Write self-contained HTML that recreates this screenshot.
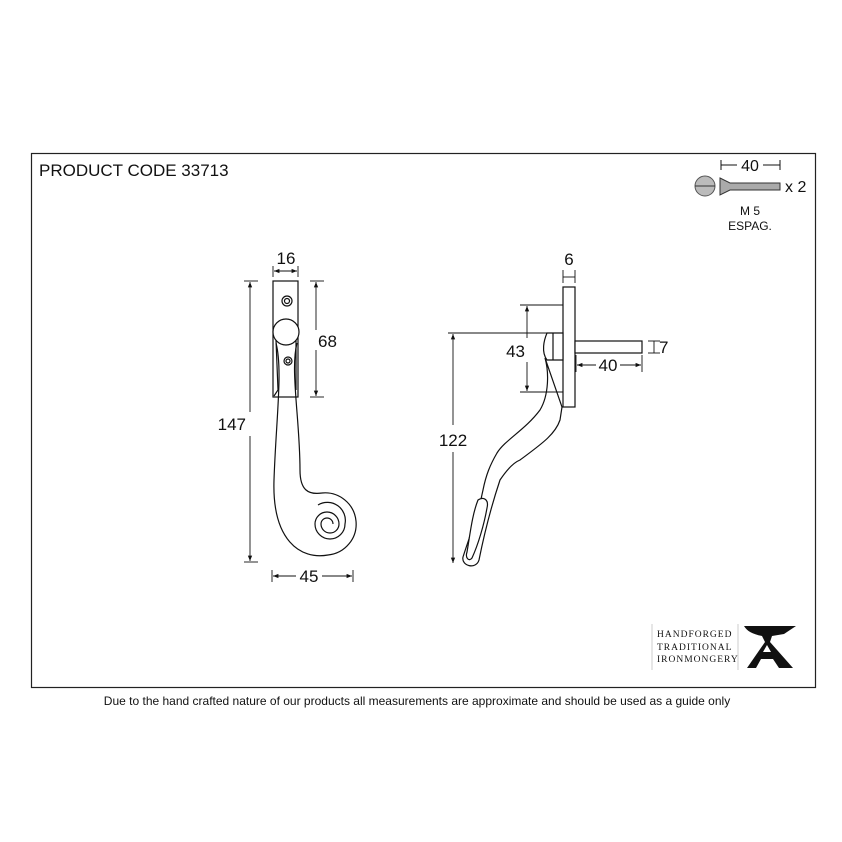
<!DOCTYPE html>
<html><head><style>
body{margin:0;background:#fff;}
svg{display:block;}
text{font-family:"Liberation Sans",sans-serif;fill:#111;}
</style></head><body>
<svg width="842" height="842" viewBox="0 0 842 842">
<defs>
<marker id="a" viewBox="0 0 10 10" refX="10" refY="5" markerWidth="6" markerHeight="6" orient="auto-start-reverse"><path d="M0,1L10,5L0,9z" fill="#111"/></marker>
</defs>
<rect x="31.5" y="153.5" width="784" height="534" fill="none" stroke="#222" stroke-width="1.2"/>
<text x="39" y="176" font-size="17">PRODUCT CODE  33713</text>

<!-- screw -->
<line x1="721" y1="165" x2="780" y2="165" stroke="#111"/>
<line x1="721" y1="160" x2="721" y2="170" stroke="#111"/><line x1="780" y1="160" x2="780" y2="170" stroke="#111"/>
<rect x="737" y="158" width="26" height="14" fill="#fff"/>
<text x="750" y="171" font-size="16" text-anchor="middle">40</text>
<circle cx="705" cy="186" r="10" fill="#bbb" stroke="#555"/>
<line x1="695" y1="186" x2="715" y2="186" stroke="#333"/>
<path d="M720,178 L730,183 L780,183 L780,190 L730,190 L720,195 Z" fill="#aaa" stroke="#333"/>
<text x="785" y="192" font-size="16">x 2</text>
<text x="750" y="215" font-size="12" text-anchor="middle">M 5</text>
<text x="750" y="230" font-size="12" text-anchor="middle">ESPAG.</text>

<!-- left handle -->
<g stroke="#111" stroke-width="1.2" fill="none">
<rect x="273" y="281" width="25" height="116" fill="#fff"/>
<circle cx="287" cy="301" r="5"/><circle cx="287" cy="301" r="2.5"/>
<path d="M276,343 C283,370 276,420 274,480 C272,540 300,560 328,555 A30 30 0 0 0 322,493" />
<path d="M297,343 C290,370 300,420 300,470 C300,490 308,495 322,493" />
<path d="M333,524 A6 6 0 0 0 321,524 A9 9 0 0 0 339,524 A12 12 0 0 0 315,524 A15 15 0 0 0 345,524 A18 18 0 0 0 318,505" />
<circle cx="286" cy="332" r="13" fill="#fff"/>
<path d="M276,340 L278,390 L274,396" /><path d="M296,340 L296,390" />
<circle cx="288" cy="361" r="4"/><circle cx="288" cy="361" r="2"/>
</g>
<g stroke="#111" stroke-width="0.9" fill="none">
<line x1="250" y1="282" x2="250" y2="412" marker-start="url(#a)"/><line x1="250" y1="436" x2="250" y2="561" marker-end="url(#a)"/>
<line x1="244" y1="281" x2="258" y2="281"/><line x1="244" y1="562" x2="258" y2="562"/>
<line x1="274" y1="271" x2="297" y2="271" marker-start="url(#a)" marker-end="url(#a)"/>
<line x1="273" y1="266" x2="273" y2="277"/><line x1="298" y1="266" x2="298" y2="277"/>
<line x1="316" y1="282" x2="316" y2="330" marker-start="url(#a)"/><line x1="316" y1="350" x2="316" y2="396" marker-end="url(#a)"/>
<line x1="310" y1="281" x2="324" y2="281"/><line x1="310" y1="397" x2="324" y2="397"/>
<line x1="273" y1="576" x2="296" y2="576" marker-start="url(#a)"/><line x1="322" y1="576" x2="352" y2="576" marker-end="url(#a)"/>
<line x1="272" y1="570" x2="272" y2="582"/><line x1="353" y1="570" x2="353" y2="582"/>
</g>
<text x="286" y="264" font-size="17" text-anchor="middle">16</text>
<text x="318" y="347" font-size="17">68</text>
<text x="246" y="430" font-size="17" text-anchor="end">147</text>
<text x="309" y="582" font-size="17" text-anchor="middle">45</text>

<!-- right handle -->
<g stroke="#111" stroke-width="1.2" fill="#fff">
<path d="M545,358 C549,372 549,395 540,410 C525,430 505,440 497,453 C490,465 486,475 483,490 C478,515 470,535 463,557 C461,566 476,570 479,560 C484,535 490,510 500,480 C508,468 515,462 520,460 C540,445 555,435 560,420 L562,407 Z"/>
<path d="M478,500 C484,496 489,500 487,508 C484,525 478,545 472,558 C469,562 465,558 467,552 C470,535 472,515 478,500 Z"/>
<rect x="563" y="287" width="12" height="120"/>
<rect x="575" y="341" width="67" height="12"/>
<path d="M547,333 L563,333 L563,360 L547,360 C541,352 544,340 547,333 Z"/>
<line x1="553" y1="333" x2="553" y2="360"/>
</g>
<g stroke="#111" stroke-width="0.9" fill="none">
<line x1="563" y1="270" x2="563" y2="283"/><line x1="575" y1="270" x2="575" y2="283"/>
<line x1="563" y1="277" x2="575" y2="277"/>
<line x1="520" y1="305" x2="563" y2="305"/><line x1="520" y1="392" x2="563" y2="392"/>
<line x1="527" y1="306" x2="527" y2="338" marker-start="url(#a)"/><line x1="527" y1="362" x2="527" y2="391" marker-end="url(#a)"/>
<line x1="448" y1="333" x2="547" y2="333"/>
<line x1="453" y1="334" x2="453" y2="425" marker-start="url(#a)"/><line x1="453" y1="452" x2="453" y2="563" marker-end="url(#a)"/>
<line x1="576" y1="355" x2="576" y2="372"/><line x1="642" y1="355" x2="642" y2="372"/>
<line x1="577" y1="365" x2="596" y2="365" marker-start="url(#a)"/><line x1="620" y1="365" x2="641" y2="365" marker-end="url(#a)"/>
<line x1="648" y1="341" x2="660" y2="341"/><line x1="648" y1="353" x2="660" y2="353"/><line x1="654" y1="341" x2="654" y2="353"/>
</g>
<text x="569" y="265" font-size="17" text-anchor="middle">6</text>
<text x="525" y="357" font-size="17" text-anchor="end">43</text>
<text x="453" y="446" font-size="17" text-anchor="middle" style="paint-order:stroke" stroke="#fff" stroke-width="6">122</text>
<text x="608" y="371" font-size="17" text-anchor="middle">40</text>
<text x="659" y="353" font-size="17">7</text>

<!-- logo -->
<line x1="652" y1="624" x2="652" y2="670" stroke="#ccc"/>
<line x1="738" y1="624" x2="738" y2="670" stroke="#ccc"/>
<g font-size="9.5" letter-spacing="1">
<text x="657" y="637" style="font-family:'Liberation Serif',serif">HANDFORGED</text>
<text x="657" y="650" style="font-family:'Liberation Serif',serif">TRADITIONAL</text>
<text x="657" y="662" style="font-family:'Liberation Serif',serif">IRONMONGERY</text>
</g>
<path d="M744,626 L796,626 L784,634 L772,636 L770,642 L793,668 L779,668 L773,659 L761,659 L756,668 L747,668 L765,642 L762,636 C752,634 747,631 744,626 Z M763,652 L771,652 L767,645 Z" fill="#111" fill-rule="evenodd"/>

<text x="417" y="705" font-size="12" text-anchor="middle">Due to the hand crafted nature of our products all measurements are approximate and should be used as a guide only</text>
</svg>
</body></html>
